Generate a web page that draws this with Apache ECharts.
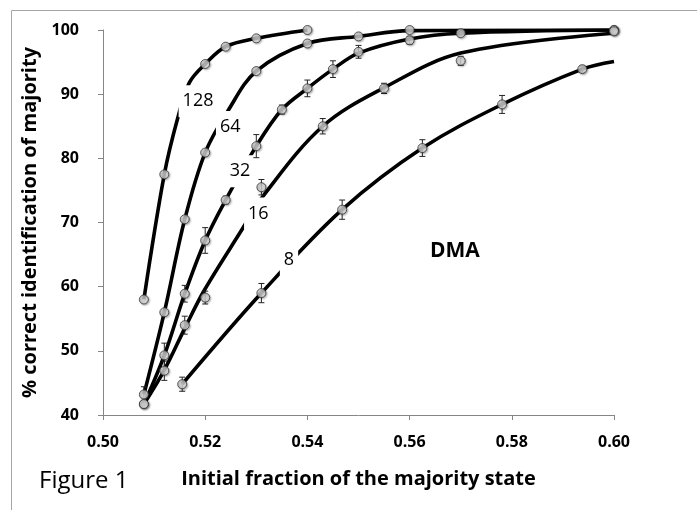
<!DOCTYPE html>
<html>
<head>
<meta charset="utf-8">
<script src="https://cdn.jsdelivr.net/npm/echarts@6/dist/echarts.min.js"></script>
<style>
html, body { margin: 0; padding: 0; background: #fff; }
#chart { width: 697px; height: 510px; }
</style>
</head>
<body>
<div id="chart"></div>
<script>
// measured points: [initial fraction, % correct, error]
var pts128 = [[0.508, 58.0, 0], [0.512, 77.5, 0], [0.520, 94.7, 0], [0.524, 97.4, 0], [0.530, 98.7, 0], [0.540, 100, 0]];
var pts64 = [[0.508, 43.2, 1.2], [0.512, 56.0, 0], [0.516, 70.5, 0], [0.520, 80.9, 0], [0.530, 93.6, 0], [0.540, 97.9, 0], [0.550, 99.0, 0], [0.560, 100, 0], [0.600, 100, 0]];
var pts32 = [[0.508, 41.7, 0.5], [0.512, 49.3, 1.9], [0.516, 58.9, 1.3], [0.520, 67.2, 2.0], [0.524, 73.5, 0.6], [0.530, 81.9, 1.8],
             [0.535, 87.6, 0.7], [0.540, 90.9, 1.3], [0.545, 93.9, 1.3], [0.550, 96.6, 1.0], [0.560, 98.4, 0.6], [0.570, 99.5, 0.4], [0.600, 100, 0]];
var pts16 = [[0.508, 41.7, 0], [0.512, 46.9, 1.5], [0.516, 54.0, 1.4], [0.520, 58.3, 1.0], [0.531, 75.5, 1.2], [0.543, 85.0, 1.2],
             [0.555, 90.9, 0.8], [0.570, 95.2, 0.7], [0.600, 99.8, 0]];
var pts8 = [[0.5155, 44.8, 1.1], [0.531, 59.0, 1.5], [0.5468, 72.0, 1.5], [0.5625, 81.6, 1.3], [0.5781, 88.4, 1.4], [0.5938, 93.9, 0.5]];

// fitted curves: [initial fraction, % correct]
var fit128 = [[0.508, 58.0], [0.512, 77.5], [0.5146, 86.2], [0.5169, 91.8], [0.520, 94.7], [0.524, 97.4], [0.530, 98.7], [0.540, 100]];
var fit64 = [[0.508, 43.2], [0.512, 56.0], [0.516, 70.5], [0.520, 80.9], [0.5246, 87.6], [0.530, 93.6], [0.540, 97.9], [0.550, 99.0], [0.560, 99.9], [0.600, 100]];
var fit32 = [[0.508, 41.7], [0.512, 49.3], [0.516, 58.9], [0.520, 67.2], [0.524, 73.5], [0.530, 81.9], [0.535, 87.6], [0.540, 90.9],
             [0.545, 93.9], [0.550, 96.4], [0.560, 98.6], [0.570, 99.5], [0.600, 100]];
var fit16 = [[0.508, 41.7], [0.512, 47.0], [0.516, 53.5], [0.5198, 59.4], [0.5272, 68.9], [0.5314, 74.2], [0.543, 85.0],
             [0.555, 91.0], [0.570, 96.4], [0.600, 99.5]];
var fit8 = [[0.5155, 44.8], [0.531, 59.0], [0.5468, 72.0], [0.5625, 81.6], [0.5781, 88.4], [0.5938, 93.9], [0.600, 95.1]];

var sizeNames = ['128', '64', '32', '16', '8'];
var allPts = [pts128, pts64, pts32, pts16, pts8];
var allFits = [fit128, fit64, fit32, fit16, fit8];

var font = '"Open Sans", "Noto Sans", sans-serif';
var chart = echarts.init(document.getElementById('chart'));

var series = [];
allFits.forEach(function (fit, i) {
    series.push({
        name: 'fit ' + sizeNames[i],
        type: 'line',
        data: fit,
        smooth: 0.35,
        symbol: 'none',
        lineStyle: { color: '#000', width: 3.6 },
        z: 2
    });
});

// curve labels with white boxes (they cut the lines like the original)
series.push({
    type: 'scatter',
    data: [[0.5186, 88.9, '128'], [0.5249, 84.9, '64'], [0.5268, 78.0, '32'], [0.5304, 71.4, '16'], [0.5364, 64.2, '8']],
    symbol: 'rect',
    symbolSize: 1,
    itemStyle: { color: '#fff', opacity: 1 },
    label: {
        show: true,
        position: 'inside',
        formatter: function (p) { return p.value[2]; },
        backgroundColor: '#fff',
        padding: [7, 4],
        color: '#000',
        opacity: 1,
        fontSize: 18,
        fontFamily: font
    },
    emphasis: { disabled: true },
    z: 3
});

allPts.forEach(function (pts, i) {
    series.push({
        name: 'err ' + sizeNames[i],
        type: 'custom',
        data: pts,
        encode: { x: 0, y: 1 },
        renderItem: function (params, api) {
            var e = api.value(2);
            if (!e) return;
            var x = api.value(0), y = api.value(1);
            var top = api.coord([x, y + e]);
            var bot = api.coord([x, y - e]);
            var st = { stroke: '#222', lineWidth: 1 };
            return {
                type: 'group',
                children: [
                    { type: 'line', shape: { x1: top[0], y1: top[1], x2: bot[0], y2: bot[1] }, style: st },
                    { type: 'line', shape: { x1: top[0] - 3, y1: top[1], x2: top[0] + 3, y2: top[1] }, style: st },
                    { type: 'line', shape: { x1: bot[0] - 3, y1: bot[1], x2: bot[0] + 3, y2: bot[1] }, style: st }
                ]
            };
        },
        z: 4
    });
    series.push({
        name: 'N = ' + sizeNames[i],
        type: 'scatter',
        data: pts,
        symbol: 'circle',
        symbolSize: 9,
        itemStyle: {
            color: '#d6d6d6',
            borderColor: '#333',
            borderWidth: 1,
            shadowBlur: 2,
            shadowColor: 'rgba(0,0,0,0.35)',
            shadowOffsetX: 1,
            shadowOffsetY: 1
        },
        z: 5
    });
});

var option = {
    animation: false,
    backgroundColor: '#fff',
    grid: { left: 103, right: 83, top: 30, bottom: 95, containLabel: false },
    xAxis: {
        type: 'value',
        min: 0.5,
        max: 0.6,
        interval: 0.02,
        name: 'Initial fraction of the majority state',
        nameLocation: 'middle',
        nameGap: 54,
        nameTextStyle: { fontSize: 20, fontWeight: 'bold', color: '#000', fontFamily: font },
        axisLine: { lineStyle: { color: '#868686', width: 1 } },
        axisTick: { show: true, length: 5, lineStyle: { color: '#868686' } },
        axisLabel: {
            formatter: function (v) { return v.toFixed(2); },
            fontSize: 16, fontWeight: 'bold', color: '#000', fontFamily: font, margin: 19
        },
        splitLine: { show: false }
    },
    yAxis: {
        type: 'value',
        min: 40,
        max: 100,
        interval: 10,
        name: '% correct identification of majority',
        nameLocation: 'middle',
        nameGap: 39,
        nameRotate: 90,
        nameTextStyle: { fontSize: 20, fontWeight: 'bold', color: '#000', fontFamily: font },
        axisLine: { show: true, lineStyle: { color: '#868686', width: 1 } },
        axisTick: { show: true, length: 5, lineStyle: { color: '#868686' } },
        axisLabel: { fontSize: 16, fontWeight: 'bold', color: '#000', fontFamily: font, margin: 24 },
        splitLine: { show: false }
    },
    graphic: [
        { type: 'rect', shape: { x: 11.5, y: 10.5, width: 700, height: 520 }, style: { fill: 'none', stroke: '#a6a6a6', lineWidth: 1 } },
        { type: 'text', left: 39, top: 469, style: { text: 'Figure 1', fontSize: 24, fill: '#000', fontFamily: font } },
        { type: 'text', left: 430, top: 241, style: { text: 'DMA', fontSize: 21, fontWeight: 'bold', fill: '#000', fontFamily: font } }
    ],
    series: series
};

chart.setOption(option);
</script>
</body>
</html>
